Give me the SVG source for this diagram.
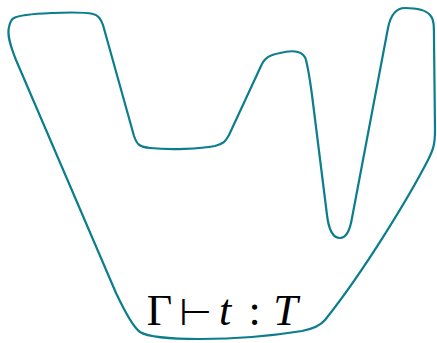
<svg xmlns="http://www.w3.org/2000/svg" width="437" height="343" viewBox="0 0 437 343">
<style>
.blob{fill:none;stroke:#0B7D8C;stroke-width:2.2;stroke-linejoin:round}
.m{font-family:"Liberation Serif","DejaVu Serif",serif;font-size:44px;fill:#000;text-anchor:middle}
.i{font-style:italic}
.r{font-family:"DejaVu Sans",sans-serif;font-weight:200;font-size:38px;fill:#000;text-anchor:middle}
</style>
<rect width="437" height="343" fill="#fff"/>
<g id="region">
<path class="blob" d="M 14,18 C 22,13 80,11 93,14 C 98,15 101,19 103,25 L 134,136 C 137,145 140,147 150,148 C 170,150 200,149 215,146 C 223,144 225,142 229,135 L 261,66 C 265,57 270,55 280,53 C 295,49 304,52 306,60 C 308,68 310,80 312,95 L 327,215 C 329,232 334,238 340,238 C 346,238 350,230 352,218 L 388,28 C 391,13 397,8 405,8 C 414,8 425,9 430,15 C 434,19 434,25 434,40 L 435,130 C 435,145 433,150 428,160 C 410,195 365,270 325,320 C 320,326 312,329 302,331 C 265,337 230,339 200,339 C 165,339 148,337 140,332 C 133,327 125,312 116,293 L 16,60 C 10,45 7,35 9,27 C 10,22 12,19 14,18 Z"/>
</g>
<g id="label">
<text class="m" x="159.5" y="325">Γ</text>
<text class="r" x="195" y="325">⊢</text>
<text class="m i" x="225" y="325">t</text>
<text class="m" x="254.5" y="325">:</text>
<text class="m i" x="285.5" y="325">T</text>
</g>
</svg>
